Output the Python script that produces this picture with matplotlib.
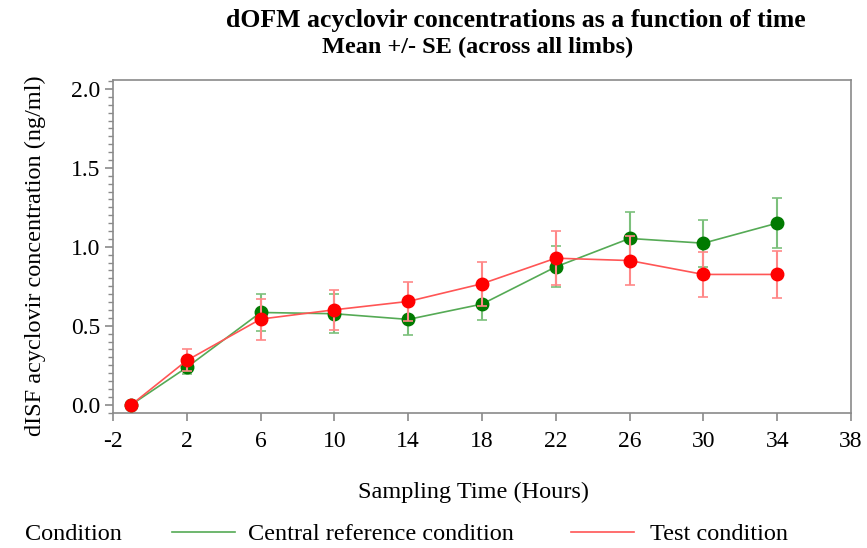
import matplotlib
matplotlib.use("Agg")
import matplotlib.pyplot as plt
from matplotlib.ticker import MultipleLocator
from matplotlib.lines import Line2D

plt.rcParams['font.family'] = ['Liberation Serif', 'DejaVu Serif']

time = [-1, 2, 6, 10, 14, 18, 22, 26, 30, 34]
ref_mean = [0.0, 0.236, 0.584, 0.576, 0.540, 0.637, 0.873, 1.053, 1.023, 1.150]
ref_se = [0.0, 0.045, 0.120, 0.125, 0.097, 0.100, 0.130, 0.170, 0.148, 0.160]
test_mean = [0.0, 0.280, 0.542, 0.601, 0.654, 0.766, 0.928, 0.913, 0.825, 0.825]
test_se = [0.0, 0.070, 0.130, 0.125, 0.126, 0.140, 0.170, 0.155, 0.145, 0.148]
xticks = [-2, 2, 6, 10, 14, 18, 22, 26, 30, 34, 38]
yticks = [0.0, 0.5, 1.0, 1.5, 2.0]

W, H = 867, 548
fig = plt.figure(figsize=(W / 100, H / 100), dpi=100)
ax = fig.add_axes([113 / W, 1 - 413 / H, (851 - 113) / W, (413 - 80) / H])

g_line, g_mark = '#55aa55', '#007a00'
r_line, r_mark = '#ff5555', '#ff0000'

ax.errorbar(time, ref_mean, yerr=ref_se, color=g_line, lw=1.2, elinewidth=1.5,
            ecolor='#7cc07c', capsize=3.5, capthick=1.2, marker='o', ms=9,
            mfc=g_mark, mec=g_mark, zorder=3)
ax.errorbar(time, test_mean, yerr=test_se, color=r_line, lw=1.2, elinewidth=1.5,
            ecolor='#ff8888', capsize=3.5, capthick=1.2, marker='o', ms=9,
            mfc=r_mark, mec=r_mark, zorder=4)

ax.set_xlim(-2, 38)
ax.set_ylim(-0.053, 2.057)
ax.set_xticks(xticks)
ax.set_xticklabels([str(v) for v in xticks])
ax.set_yticks(yticks)
ax.set_yticklabels([f"{v:.1f}" for v in yticks])
ax.yaxis.set_minor_locator(MultipleLocator(0.05))

for s in ax.spines.values():
    s.set_color('#8a8a8a')
    s.set_linewidth(1.2)
ax.tick_params(axis='both', which='major', direction='out', length=6, width=1.2,
               color='#8a8a8a', labelsize=17)
ax.tick_params(axis='x', which='major', pad=7)
ax.tick_params(axis='y', which='major', pad=3)
ax.tick_params(axis='y', which='minor', direction='out', length=3.5, width=1.0,
               color='#8a8a8a')

fig.text(358 / W, 1 - 492 / H, 'Sampling Time (Hours)', ha='left', va='center',
         fontsize=17.5)
fig.text(35 / W, 1 - 256 / H, 'dISF acyclovir concentration (ng/ml)', ha='center',
         va='center', rotation=90, fontsize=17.5)

fig.text(516 / W, 1 - 20 / H, 'dOFM acyclovir concentrations as a function of time',
         ha='center', va='center', fontsize=18.5, fontweight='bold')
fig.text(478 / W, 1 - 47 / H, 'Mean +/- SE (across all limbs)',
         ha='center', va='center', fontsize=17.5, fontweight='bold')

# legend row
ly = 1 - 532 / H
fig.text(25 / W, 1 - 535 / H, 'Condition', ha='left', va='center', fontsize=17.5)
fig.add_artist(Line2D([172 / W, 235 / W], [ly, ly], color=g_line, lw=1.2,
                      transform=fig.transFigure))
fig.text(248 / W, 1 - 535 / H, 'Central reference condition', ha='left', va='center',
         fontsize=17.5)
fig.add_artist(Line2D([571 / W, 634 / W], [ly, ly], color=r_line, lw=1.2,
                      transform=fig.transFigure))
fig.text(650 / W, 1 - 535 / H, 'Test condition', ha='left', va='center', fontsize=17.5)

fig.savefig('out.png', dpi=100)
